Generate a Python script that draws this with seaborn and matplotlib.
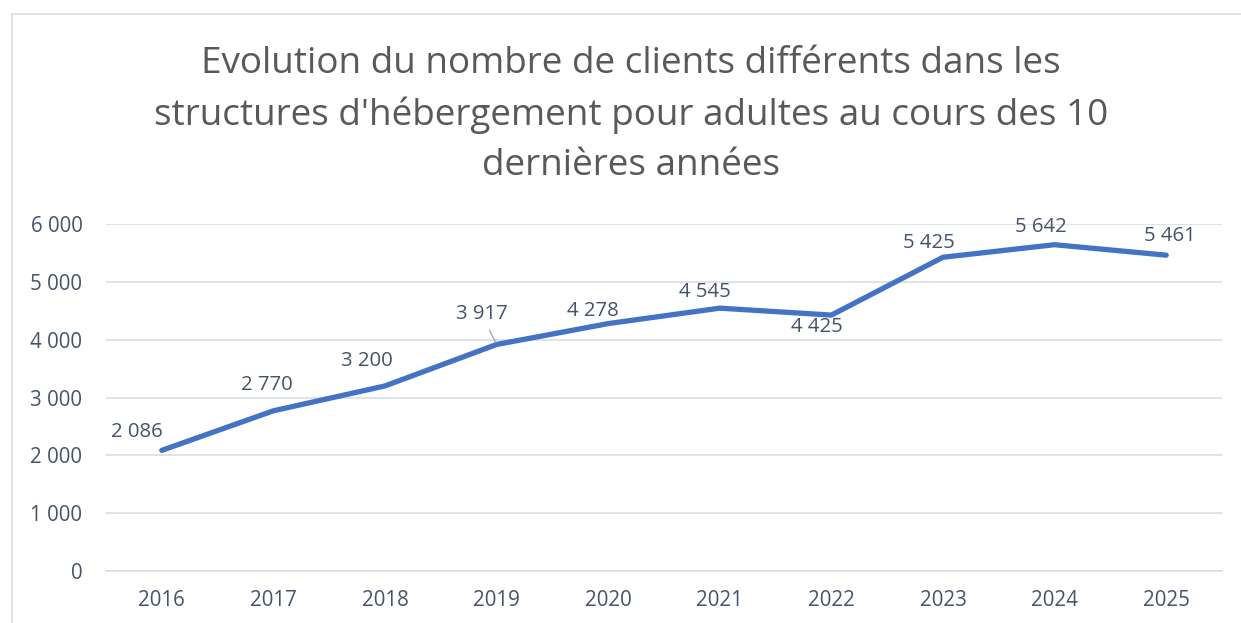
import matplotlib
matplotlib.use("Agg")
import matplotlib.pyplot as plt
import seaborn as sns
import pandas as pd
from matplotlib.lines import Line2D

# Données
annees = ["2016", "2017", "2018", "2019", "2020", "2021", "2022", "2023", "2024", "2025"]
clients = [2086, 2770, 3200, 3917, 4278, 4545, 4425, 5425, 5642, 5461]
# décalage des étiquettes (pixels) par rapport au point
decal_x = [-25, -7, -18, -15, -15, -15, -15, -14, -14, 4]
decal_y = [18, 26, 25, 30, 13, 16, -12, 14, 18, 19]

titre = ("Evolution du nombre de clients différents dans les\n"
         "structures d'hébergement pour adultes au cours des 10\n"
         "dernières années")

df = pd.DataFrame({"annee": annees, "clients": clients})

def fmt(v):
    return f"{v:,}".replace(",", " ")

sns.set_style("white")
plt.rcParams["font.family"] = ["Open Sans", "DejaVu Sans"]

gris_txt = "#44546A"
gris_grille = "#D9DEE4"

fig = plt.figure(figsize=(12.41, 6.23), dpi=100)
ax = fig.add_axes([106 / 1241, 1 - 571 / 623, (1222 - 106) / 1241, (571 - 224) / 623])

sns.lineplot(data=df, x="annee", y="clients", ax=ax, color="#4472C4",
             linewidth=3.8, solid_capstyle="round", sort=False)

ax.set_xlim(-0.5, len(annees) - 0.5)
ax.set_ylim(0, 6000)
ax.set_yticks(range(0, 6001, 1000))
ax.set_yticklabels([fmt(v) for v in range(0, 6001, 1000)])
ax.yaxis.grid(True, color=gris_grille, linewidth=1.2)
ax.set_axisbelow(True)
ax.set_xlabel("")
ax.set_ylabel("")

for s in ["top", "right", "left"]:
    ax.spines[s].set_visible(False)
ax.spines["bottom"].set_color(gris_grille)
ax.spines["bottom"].set_linewidth(1.2)

ax.set_xticks([i - 0.5 for i in range(len(annees) + 1)], minor=True)
ax.tick_params(axis="x", which="major", length=0, pad=14, labelsize=14.8, labelcolor=gris_txt)
ax.tick_params(axis="x", which="minor", length=5, width=1.2, color=gris_grille, direction="out")
ax.tick_params(axis="y", length=0, pad=17, labelsize=14.8, labelcolor=gris_txt)

for i, (v, dx, dy) in enumerate(zip(clients, decal_x, decal_y)):
    props = None
    if annees[i] == "2019":
        props = dict(arrowstyle="-", color="#A6A6A6", lw=1, shrinkA=2, shrinkB=2)
    ax.annotate(fmt(v), xy=(i, v), xytext=(dx, dy), textcoords="offset pixels",
                ha="center", va="center", fontsize=14.7, color=gris_txt,
                arrowprops=props)

fig.text(631 / 1241, 1 - 115 / 623, titre, ha="center", va="center",
         fontsize=26.6, color="#595959", linespacing=1.5)

# cadre du graphique
fig.add_artist(Line2D([12 / 1241, 12 / 1241], [0, 1 - 14 / 623], transform=fig.transFigure,
                      color=gris_grille, linewidth=1.2))
fig.add_artist(Line2D([12 / 1241, 1], [1 - 14 / 623, 1 - 14 / 623], transform=fig.transFigure,
                      color=gris_grille, linewidth=1.2))

fig.savefig("out.png", dpi=100)
